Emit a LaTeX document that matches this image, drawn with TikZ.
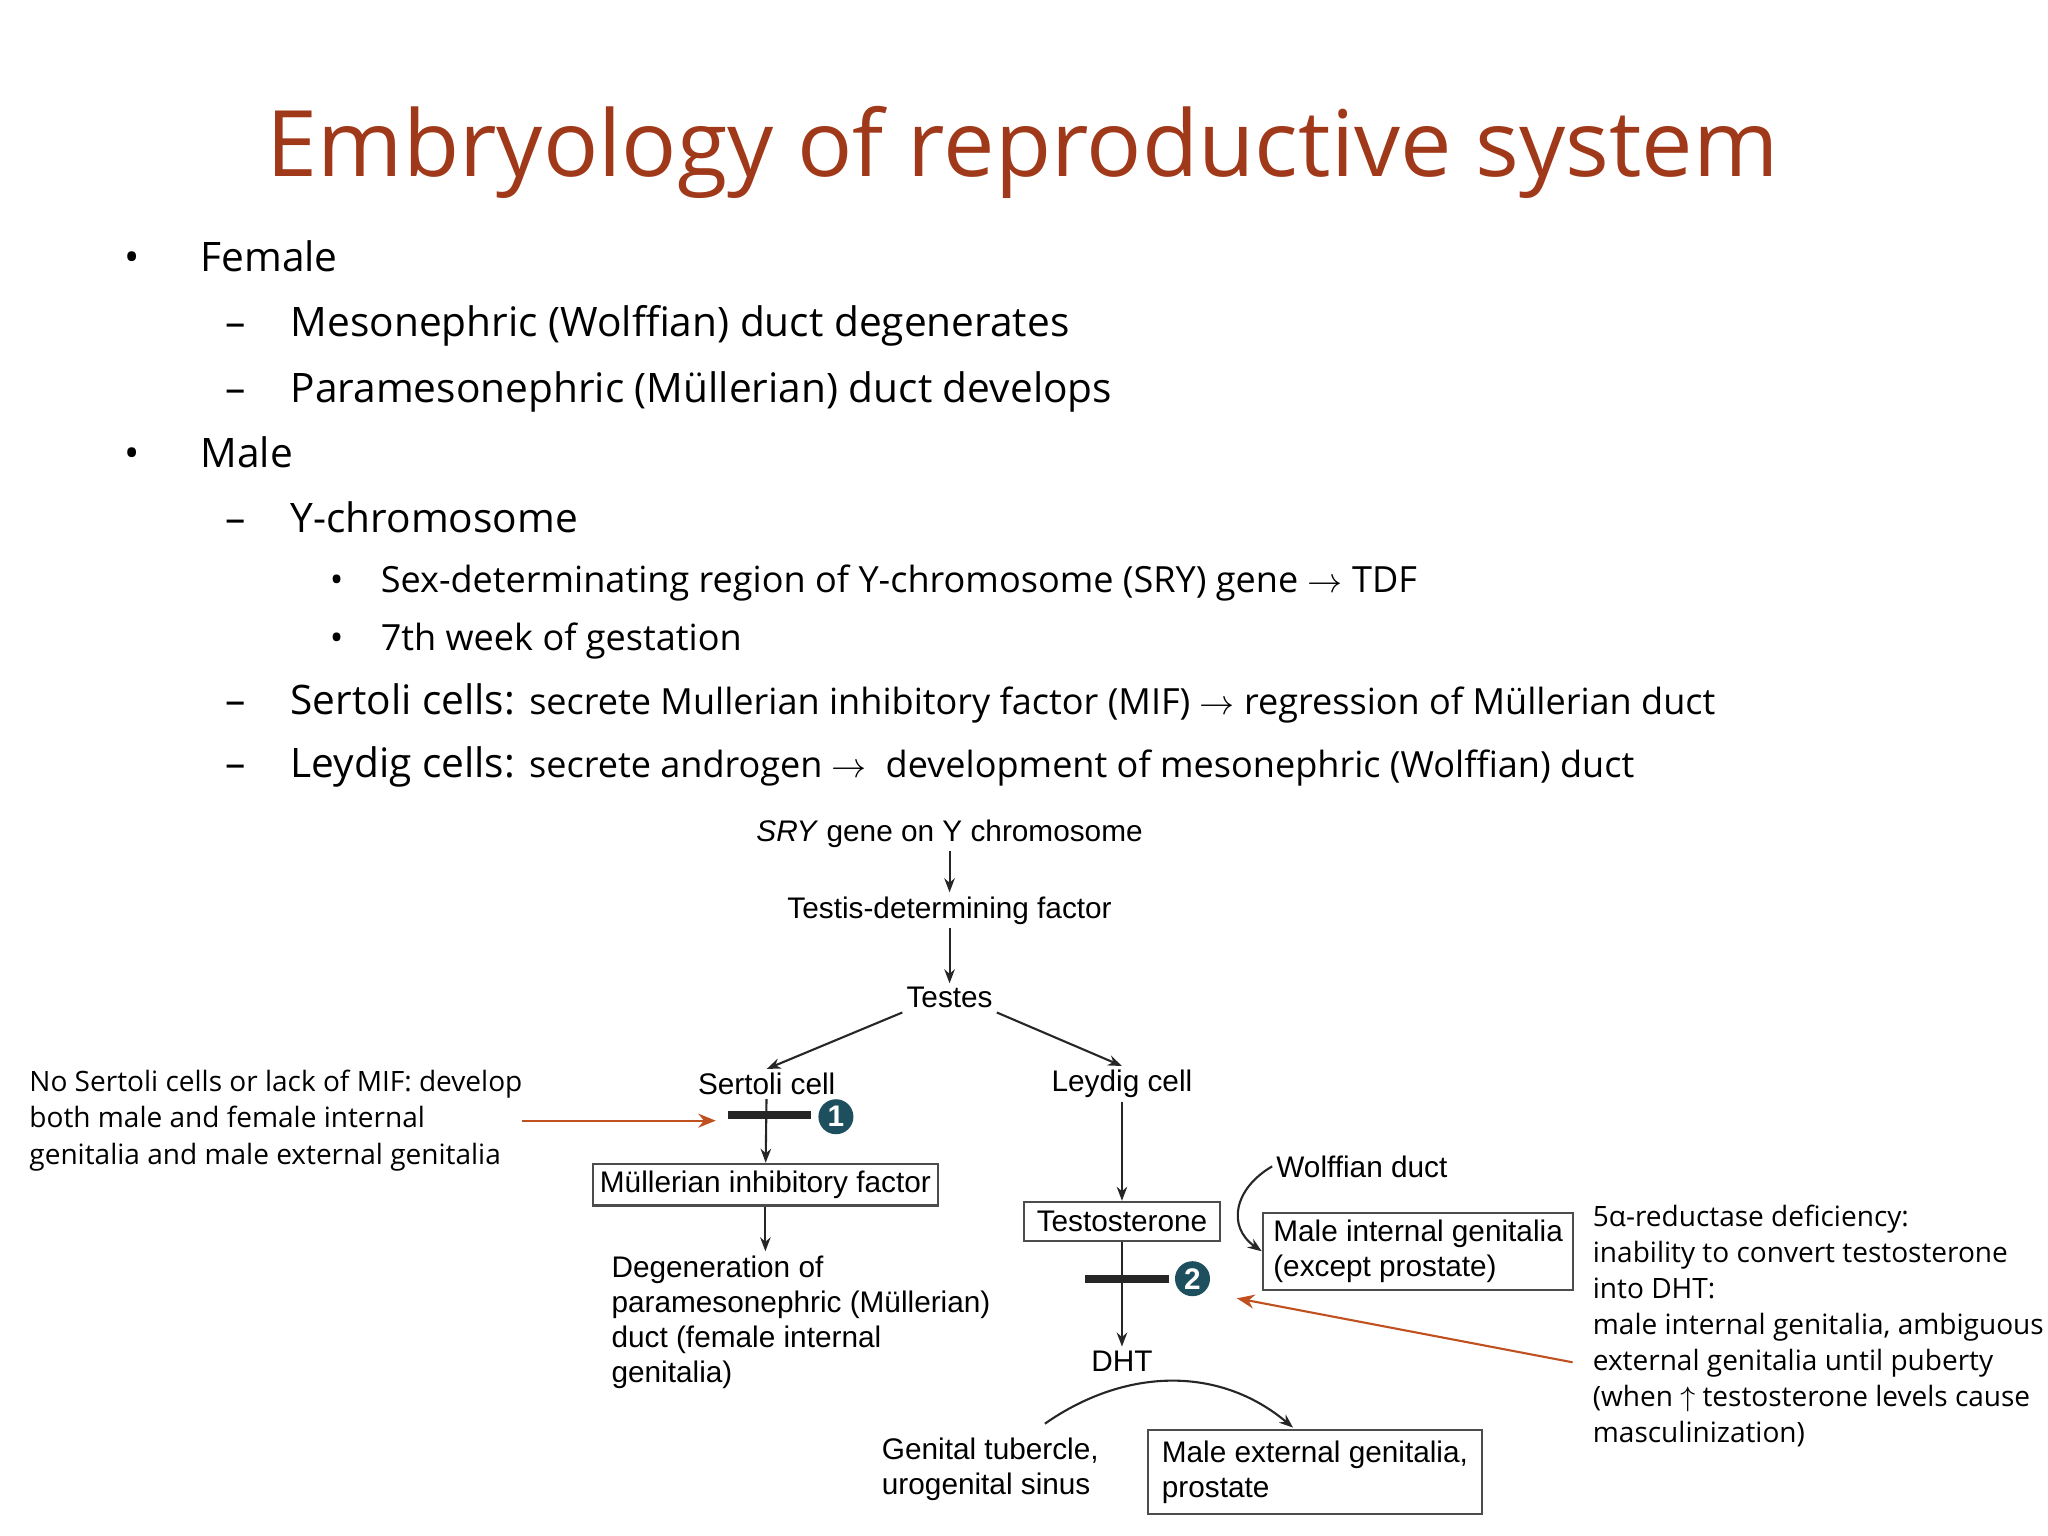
\documentclass[tikz,border=0pt]{standalone}
\usepackage{fontspec}
\setmainfont{Open Sans}
\newfontfamily\diagfont{Liberation Sans}
\usetikzlibrary{arrows.meta}
\definecolor{titlered}{HTML}{A0391A}
\definecolor{notered}{HTML}{C0501F}
\definecolor{stepteal}{HTML}{1D4F5E}
\begin{document}
\begin{tikzpicture}%
	[x=0.0131cm, y=-0.0131cm,
	flow/.style={font=\diagfont\fontsize{8.5}{10}\selectfont, inner sep=1pt},
	flowbox/.style={flow, draw=black!70, semithick, inner sep=2pt},
	flowarrow/.style={-{Stealth[length=4pt,width=3pt]}, semithick, black!85},
	note/.style={font=\fontsize{8}{10.3}\selectfont, align=left, inner sep=0pt},
	notearrow/.style={-{Stealth[length=5pt,width=4pt]}, semithick, notered},
	block/.style={line width=2.3pt, black!85},
	stepmark/.style={circle, fill=stepteal, text=white, inner sep=0pt, minimum size=10pt, font=\diagfont\bfseries\fontsize{8.5}{8.5}\selectfont},
	bul/.style={anchor=base west, inner sep=0pt, font=\fontsize{11.6}{14}\selectfont},
	subbul/.style={anchor=base west, inner sep=0pt, font=\fontsize{10.3}{12}\selectfont}]
	%
	\useasboundingbox (0,0) rectangle (1568,1176);
	%% Title
	\node[text=titlered, font=\fontsize{26.2}{30}\selectfont, inner sep=0pt] (title) at (783,117) {Embryology of reproductive system};
	%%
	%% Bullet list
	%%
	\node[bul] (b1) at (95,208) {•};
	\node[bul] (female) at (153,208) {Female};
	\node[bul] (d1) at (172,258) {–};
	\node[bul] (meso) at (222,258) {Mesonephric (Wolffian) duct degenerates};
	\node[bul] (d2) at (172,308) {–};
	\node[bul] (para) at (222,308) {Paramesonephric (Müllerian) duct develops};
	\node[bul] (b2) at (95,358) {•};
	\node[bul] (male) at (153,358) {Male};
	\node[bul] (d3) at (172,408) {–};
	\node[bul] (ychr) at (222,408) {Y-chromosome};
	\node[subbul] (s1) at (252,454) {•};
	\node[subbul] (sry-line) at (291,454) {Sex-determinating region of Y-chromosome (SRY) gene $\rightarrow$ TDF};
	\node[subbul] (s2) at (252,498) {•};
	\node[subbul] (week) at (291,498) {7th week of gestation};
	\node[bul] (d4) at (172,547) {–};
	\node[bul] (sertoli-line) at (222,547) {Sertoli cells: {\fontsize{10.3}{12}\selectfont secrete Mullerian inhibitory factor (MIF) $\rightarrow$ regression of Müllerian duct}};
	\node[bul] (d5) at (172,595) {–};
	\node[bul] (leydig-line) at (222,595) {Leydig cells: {\fontsize{10.3}{12}\selectfont secrete androgen $\rightarrow$~ development of mesonephric (Wolffian) duct}};
	%%
	%% Flow chart
	%%
	\node[flow] (sry) at (727,638) {\textit{SRY} gene on Y chromosome};
	\node[flow] (tdf) at (727,697) {Testis-determining factor};
	\node[flow] (testes) at (727,764) {Testes};
	\node[flow] (sertoli) at (587,830) {Sertoli cell};
	\node[flow] (leydig) at (859,830) {Leydig cell};
	\node[flowbox] (mif) at (586,907) {Müllerian inhibitory factor};
	\node[flow, anchor=north west, align=left] (degen) at (465,958) {Degeneration of\\paramesonephric (Müllerian)\\duct (female internal\\genitalia)};
	\node[flowbox, minimum width=1.97cm, minimum height=0.39cm] (testo) at (859,935) {Testosterone};
	\node[flow] (dht) at (859,1042) {DHT};
	\node[flow, anchor=west] (wolff) at (974,893) {Wolffian duct};
	\node[flowbox, anchor=west, align=left, inner xsep=3pt] (maleint) at (966,958) {Male internal genitalia\\(except prostate)};
	\node[flow, anchor=west, align=left] (tubercle) at (672,1125) {Genital tubercle,\\urogenital sinus};
	\node[flowbox, anchor=west, align=left, inner xsep=4pt, inner ysep=3pt] (maleext) at (878,1127) {Male external genitalia,\\prostate};
	\node[stepmark] (one) at (640,855) {1};
	\node[stepmark] (two) at (913,979) {2};
	\coordinate (bar1l) at (557,854);
	\coordinate (bar1r) at (621,854);
	\coordinate (bar2l) at (831,979);
	\coordinate (bar2r) at (895,979);
	\coordinate (arcstart) at (800,1090);
	\coordinate (arcend) at (990,1093);
	%%
	%% Connectors
	%%
	\draw[flowarrow] (sry) -- (tdf);
	\draw[flowarrow] (tdf) -- (testes);
	\draw[flowarrow] (testes.south west) -- (sertoli.north);
	\draw[flowarrow] (testes.south east) -- (leydig.north);
	\draw[flowarrow] (sertoli) -- (mif);
	\draw[block] (bar1l) -- (bar1r);
	\draw[flowarrow] (mif) -- (mif.south |- degen.north);
	\draw[flowarrow] (leydig) -- (testo);
	\draw[flowarrow] (testo) -- (dht);
	\draw[block] (bar2l) -- (bar2r);
	\draw[flowarrow] (wolff.west) to[out=210, in=145, looseness=1.3] (maleint.west);
	\draw[flowarrow] (arcstart) to[out=35, in=140] (arcend);
	%%
	%% Notes
	%%
	\node[note, anchor=north west] (noteleft) at (22,819) {No Sertoli cells or lack of MIF: develop\\both male and female internal\\genitalia and male external genitalia};
	\node[note, anchor=north west] (noteright) at (1219,922) {5α-reductase deficiency:\\inability to convert testosterone\\into DHT:\\male internal genitalia, ambiguous\\external genitalia until puberty\\(when $\uparrow$ testosterone levels cause\\masculinization)};
	\coordinate (leftin) at (548,858);
	\coordinate (leftout) at (400,858);
	\coordinate (rightout) at (1204,1043);
	\coordinate (rightin) at (947,994);
	\draw[notearrow] (leftout) -- (leftin);
	\draw[notearrow] (rightout) -- (rightin);
\end{tikzpicture}
\end{document}
